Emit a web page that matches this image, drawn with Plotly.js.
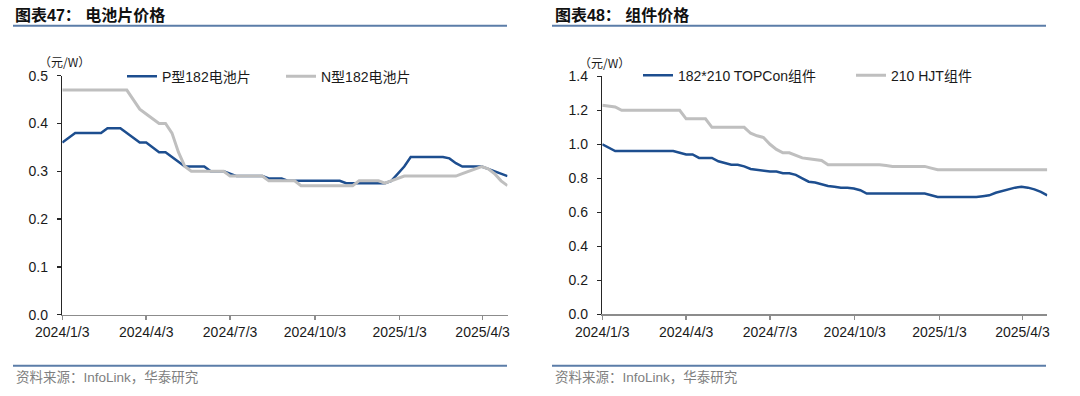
<!DOCTYPE html>
<html>
<head>
<meta charset="utf-8">
<script src="https://cdn.plot.ly/plotly-3.0.1.min.js"></script>
<style>html,body{margin:0;padding:0;background:#fff;}#chart{width:1080px;height:396px;}</style>
</head>
<body>
<div id="chart"></div>
<script>
// Weekly dates (Wednesdays)
const dates = [
 '2024-01-03','2024-01-10','2024-01-17','2024-01-24','2024-01-31','2024-02-07','2024-02-14','2024-02-21','2024-02-28','2024-03-06',
 '2024-03-13','2024-03-20','2024-03-27','2024-04-03','2024-04-10','2024-04-17','2024-04-24','2024-05-01','2024-05-08','2024-05-15',
 '2024-05-22','2024-05-29','2024-06-05','2024-06-12','2024-06-19','2024-06-26','2024-07-03','2024-07-10','2024-07-17','2024-07-24',
 '2024-07-31','2024-08-07','2024-08-14','2024-08-21','2024-08-28','2024-09-04','2024-09-11','2024-09-18','2024-09-25','2024-10-02',
 '2024-10-09','2024-10-16','2024-10-23','2024-10-30','2024-11-06','2024-11-13','2024-11-20','2024-11-27','2024-12-04','2024-12-11',
 '2024-12-18','2024-12-25','2025-01-01','2025-01-08','2025-01-15','2025-01-22','2025-01-29','2025-02-05','2025-02-12','2025-02-19',
 '2025-02-26','2025-03-05','2025-03-12','2025-03-19','2025-03-26','2025-04-02','2025-04-09','2025-04-16','2025-04-23','2025-04-30'
];

// 图表47 电池片价格 (元/W)
const cellP182 = [
 0.36,0.37,0.38,0.38,0.38,0.38,0.38,0.39,0.39,0.39,
 0.38,0.37,0.36,0.36,0.35,0.34,0.34,0.33,0.32,0.31,
 0.31,0.31,0.31,0.30,0.30,0.30,0.295,0.29,0.29,0.29,
 0.29,0.29,0.285,0.285,0.285,0.28,0.28,0.28,0.28,0.28,
 0.28,0.28,0.28,0.28,0.275,0.275,0.275,0.275,0.275,0.275,
 0.275,0.28,0.295,0.31,0.33,0.33,0.33,0.33,0.33,0.33,
 0.327,0.317,0.31,0.31,0.31,0.31,0.305,0.30,0.295,0.29
];
const cellN182 = [
 0.47,0.47,0.47,0.47,0.47,0.47,0.47,0.47,0.47,0.47,
 0.47,0.45,0.43,0.42,0.41,0.40,0.40,0.38,0.34,0.31,
 0.30,0.30,0.30,0.30,0.30,0.30,0.29,0.29,0.29,0.29,
 0.29,0.29,0.28,0.28,0.28,0.28,0.28,0.27,0.27,0.27,
 0.27,0.27,0.27,0.27,0.27,0.27,0.28,0.28,0.28,0.28,
 0.275,0.28,0.285,0.29,0.29,0.29,0.29,0.29,0.29,0.29,
 0.29,0.29,0.295,0.30,0.305,0.31,0.305,0.295,0.28,0.27
];

// 图表48 组件价格 (元/W)
const modTOPCon = [
 1.00,0.98,0.96,0.96,0.96,0.96,0.96,0.96,0.96,0.96,
 0.96,0.96,0.95,0.94,0.94,0.92,0.92,0.92,0.90,0.89,
 0.88,0.88,0.87,0.855,0.85,0.845,0.84,0.84,0.83,0.83,
 0.82,0.80,0.78,0.775,0.765,0.755,0.75,0.745,0.745,0.74,
 0.73,0.71,0.71,0.71,0.71,0.71,0.71,0.71,0.71,0.71,
 0.71,0.70,0.69,0.69,0.69,0.69,0.69,0.69,0.69,0.695,
 0.70,0.715,0.725,0.735,0.745,0.75,0.745,0.735,0.72,0.70
];
const modHJT = [
 1.23,1.225,1.22,1.20,1.20,1.20,1.20,1.20,1.20,1.20,
 1.20,1.20,1.20,1.15,1.15,1.15,1.15,1.10,1.10,1.10,
 1.10,1.10,1.10,1.065,1.05,1.04,1.00,0.97,0.95,0.95,
 0.935,0.92,0.915,0.91,0.905,0.88,0.88,0.88,0.88,0.88,
 0.88,0.88,0.88,0.88,0.875,0.87,0.87,0.87,0.87,0.87,
 0.87,0.86,0.85,0.85,0.85,0.85,0.85,0.85,0.85,0.85,
 0.85,0.85,0.85,0.85,0.85,0.85,0.85,0.85,0.85,0.85
];

const tickDates = ['2024-01-03','2024-04-03','2024-07-03','2024-10-03','2025-01-03','2025-04-03'];
const tickLabels = ['2024/1/3','2024/4/3','2024/7/3','2024/10/3','2025/1/3','2025/4/3'];
const leftNames = ['P型182电池片','N型182电池片'];
const rightNames = ['182*210 TOPCon组件','210 HJT组件'];
const leftTitle = '图表47：';
const leftTitle2 = '电池片价格';
const rightTitle = '图表48：';
const rightTitle2 = '组件价格';
const unitLabel = '（元/W）';
const sourceText = '资料来源：InfoLink，华泰研究';

const BLUE = '#1D4E8F';
const GRAY = '#BFBFBF';
const FONT = 'Liberation Sans, Arial, Noto Sans CJK SC, sans-serif';
const W = 1080, H = 396;
const px = v => v / W;
const py = v => 1 - v / H;

const traces = [
 {x: dates, y: cellP182, name: leftNames[0], type: 'scatter', mode: 'lines', line: {color: BLUE, width: 2.5}, xaxis: 'x', yaxis: 'y', legend: 'legend'},
 {x: dates, y: cellN182, name: leftNames[1], type: 'scatter', mode: 'lines', line: {color: GRAY, width: 3}, xaxis: 'x', yaxis: 'y', legend: 'legend2'},
 {x: dates, y: modTOPCon, name: rightNames[0], type: 'scatter', mode: 'lines', line: {color: BLUE, width: 2.5}, xaxis: 'x2', yaxis: 'y2', legend: 'legend3'},
 {x: dates, y: modHJT, name: rightNames[1], type: 'scatter', mode: 'lines', line: {color: GRAY, width: 3}, xaxis: 'x2', yaxis: 'y2', legend: 'legend4'}
];

const xCommon = {
 type: 'date', range: ['2024-01-03', '2025-04-30'], tickmode: 'array', tickvals: tickDates, ticktext: tickLabels,
 showline: true, linecolor: '#8C8C8C', linewidth: 1.5, ticks: 'outside', ticklen: 4, tickcolor: '#8C8C8C', tickwidth: 1.5,
 showgrid: false, zeroline: false, automargin: false, tickfont: {family: FONT, size: 14, color: '#1a1a1a'}, fixedrange: true
};
const yCommon = {
 showline: true, linecolor: '#262626', linewidth: 1.5, ticks: 'outside', ticklen: 4, tickcolor: '#262626', tickwidth: 1.5,
 showgrid: false, zeroline: false, automargin: false, tickformat: '.1f', ticklabelstandoff: 6,
 tickfont: {family: FONT, size: 14, color: '#1a1a1a'}, fixedrange: true
};
const legCommon = {orientation: 'h', xanchor: 'left', yanchor: 'middle', bgcolor: 'rgba(0,0,0,0)', borderwidth: 0,
 font: {family: FONT, size: 14, color: '#1a1a1a'}};

const layout = {
 width: W, height: H, margin: {l: 0, r: 0, t: 0, b: 0, autoexpand: false}, paper_bgcolor: '#fff', plot_bgcolor: '#fff',
 font: {family: FONT, size: 14, color: '#1a1a1a'},
 xaxis: Object.assign({}, xCommon, {domain: [px(62.3), px(507.5)], anchor: 'y'}),
 yaxis: Object.assign({}, yCommon, {domain: [py(314.7), py(75.7)], range: [0, 0.5], dtick: 0.1, anchor: 'x'}),
 xaxis2: Object.assign({}, xCommon, {domain: [px(602.3), px(1047.3)], anchor: 'y2'}),
 yaxis2: Object.assign({}, yCommon, {domain: [py(314.3), py(76.3)], range: [0, 1.4], dtick: 0.2, anchor: 'x2'}),
 showlegend: true,
 legend: Object.assign({}, legCommon, {x: px(122), y: py(76.7)}),
 legend2: Object.assign({}, legCommon, {x: px(281), y: py(76.7)}),
 legend3: Object.assign({}, legCommon, {x: px(638), y: py(75.7)}),
 legend4: Object.assign({}, legCommon, {x: px(851), y: py(75.7)}),
 shapes: [
  {type: 'line', xref: 'paper', yref: 'paper', x0: px(13), x1: px(507), y0: py(25.7), y1: py(25.7), line: {color: '#5B7DA8', width: 2}},
  {type: 'line', xref: 'paper', yref: 'paper', x0: px(552), x1: px(1046), y0: py(25.7), y1: py(25.7), line: {color: '#5B7DA8', width: 2}},
  {type: 'line', xref: 'paper', yref: 'paper', x0: px(13), x1: px(507), y0: py(365.7), y1: py(365.7), line: {color: '#5B7DA8', width: 2}},
  {type: 'line', xref: 'paper', yref: 'paper', x0: px(552), x1: px(1046), y0: py(365.7), y1: py(365.7), line: {color: '#5B7DA8', width: 2}}
 ],
 annotations: [
  {xref: 'paper', yref: 'paper', x: px(13), y: py(15), xanchor: 'left', yanchor: 'middle', showarrow: false,
   text: '<b>' + leftTitle + ' ' + leftTitle2 + '</b>', font: {family: FONT, size: 16, color: '#111'}},
  {xref: 'paper', yref: 'paper', x: px(553), y: py(15), xanchor: 'left', yanchor: 'middle', showarrow: false,
   text: '<b>' + rightTitle + ' ' + rightTitle2 + '</b>', font: {family: FONT, size: 16, color: '#111'}},
  {xref: 'paper', yref: 'paper', x: px(64), y: py(61.7), xanchor: 'center', yanchor: 'middle', showarrow: false,
   text: unitLabel, font: {family: 'Noto Sans CJK SC, sans-serif', size: 12, color: '#1a1a1a'}},
  {xref: 'paper', yref: 'paper', x: px(604), y: py(62.3), xanchor: 'center', yanchor: 'middle', showarrow: false,
   text: unitLabel, font: {family: 'Noto Sans CJK SC, sans-serif', size: 12, color: '#1a1a1a'}},
  {xref: 'paper', yref: 'paper', x: px(14), y: py(377.5), xanchor: 'left', yanchor: 'middle', showarrow: false,
   text: sourceText, font: {family: FONT, size: 13.5, color: '#7F7F7F'}},
  {xref: 'paper', yref: 'paper', x: px(553), y: py(377.5), xanchor: 'left', yanchor: 'middle', showarrow: false,
   text: sourceText, font: {family: FONT, size: 13.5, color: '#7F7F7F'}}
 ]
};

Plotly.newPlot('chart', traces, layout, {staticPlot: true, displayModeBar: false});
</script>
</body>
</html>
